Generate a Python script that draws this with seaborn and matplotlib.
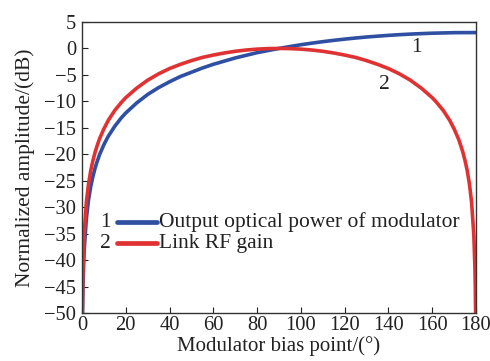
import pandas as pd
import matplotlib
matplotlib.use('Agg')
import matplotlib.pyplot as plt
import seaborn as sns

# Values
bias_deg = [0.25, 0.5, 1, 2, 3, 4, 5, 6, 7, 8, 10, 12, 15, 18, 20, 25, 30, 35, 40, 45,
            50, 55, 60, 65, 70, 75, 80, 85, 90, 95, 100, 105, 110, 115, 120, 125, 130,
            135, 140, 145, 150, 155, 160, 170, 180]
optical_power_db = [-50.2, -44.2, -38.2, -32.2, -28.6, -26.1, -24.2, -22.6, -21.3, -20.1,
                    -18.2, -16.6, -14.7, -13.1, -12.2, -10.3, -8.7, -7.4, -6.3, -5.3,
                    -4.5, -3.7, -3.0, -2.4, -1.8, -1.3, -0.8, -0.4, 0.0, 0.36, 0.7, 1.0,
                    1.28, 1.53, 1.76, 1.97, 2.16, 2.32, 2.47, 2.6, 2.71, 2.8, 2.88, 2.98, 3.0]

gain_deg = [0.17, 0.2, 0.3, 0.5, 1, 2, 3, 4, 5, 6, 7, 8, 10, 12, 15, 18, 20, 25, 30, 35,
            40, 45, 50, 55, 60, 65, 70, 75, 80, 85, 90, 95, 100, 105, 110, 115, 120, 125,
            130, 135, 140, 145, 150, 155, 160, 162, 165, 168, 170, 172, 173, 174, 175,
            176, 177, 178, 179, 179.5, 179.7, 179.8, 179.83]
link_gain_db = [-50.6, -49.1, -45.6, -41.2, -35.2, -29.1, -25.6, -23.1, -21.2, -19.6,
                -18.3, -17.1, -15.2, -13.6, -11.7, -10.2, -9.3, -7.5, -6.0, -4.8,
                -3.8, -3.0, -2.3, -1.7, -1.25, -0.86, -0.54, -0.3, -0.13, -0.03, 0.0,
                -0.03, -0.13, -0.3, -0.54, -0.86, -1.25, -1.7, -2.3, -3.0, -3.8, -4.8,
                -6.0, -7.5, -9.3, -10.2, -11.7, -13.6, -15.2, -17.1, -18.3, -19.6, -21.2,
                -23.1, -25.6, -29.1, -35.2, -41.2, -45.6, -49.1, -50.6]

series_labels = ['Output optical power of modulator', 'Link RF gain']
series_colors = ['#2f4fa2', '#e03232']

df_power = pd.DataFrame({'bias': bias_deg, 'db': optical_power_db})
df_gain = pd.DataFrame({'bias': gain_deg, 'db': link_gain_db})

sns.set_theme(style='ticks')
plt.rcParams['font.family'] = ['Liberation Serif', 'DejaVu Serif']

fig = plt.figure(figsize=(4.9, 3.61), dpi=100)
ax = fig.add_axes([0.1673, 0.1330, 0.8041, 0.8061])

sns.lineplot(data=df_power, x='bias', y='db', color=series_colors[0], linewidth=2.6, ax=ax)
sns.lineplot(data=df_gain, x='bias', y='db', color=series_colors[1], linewidth=2.6, ax=ax)

fs = 15.5
ax.set_xlim(0, 180)
ax.set_ylim(-50, 5)
ax.set_xticks(range(0, 181, 20))
ax.set_yticks(range(-50, 6, 5))
ax.set_yticklabels([str(v).replace('-', '\u2212') for v in range(-50, 6, 5)])
ax.tick_params(direction='in', length=4, width=0.8, labelsize=14.8, colors='#222222')
ax.tick_params(axis='x', pad=2.5)
ax.tick_params(axis='y', pad=4)
for s in ax.spines.values():
    s.set_linewidth(1.0)
    s.set_color('#333333')

ax.set_xlabel('Modulator bias point/(°)', fontsize=15, labelpad=0.5, color='#222222')
ax.set_ylabel('Normalized amplitude/(dB)', fontsize=fs, color='#222222')
ax.yaxis.set_label_coords(-0.118, 0.5)

# curve numbers
ax.text(153, 0.1, '1', fontsize=fs, ha='center', va='center', color='#222222')
ax.text(138, -6.8, '2', fontsize=fs, ha='center', va='center', color='#222222')

# legend drawn by hand: number, line, label
for i, (lab, col) in enumerate(zip(series_labels, series_colors)):
    yy = 0.312 - i * 0.072
    ax.text(0.072, yy, str(i + 1), transform=ax.transAxes, fontsize=fs,
            ha='right', va='center', color='#222222')
    ax.plot([0.089, 0.191], [yy, yy], transform=ax.transAxes, color=col,
            linewidth=3.4, solid_capstyle='round')
    ax.text(0.196, yy, lab, transform=ax.transAxes, fontsize=fs,
            ha='left', va='center', color='#222222')

fig.savefig('out.png', dpi=100)
